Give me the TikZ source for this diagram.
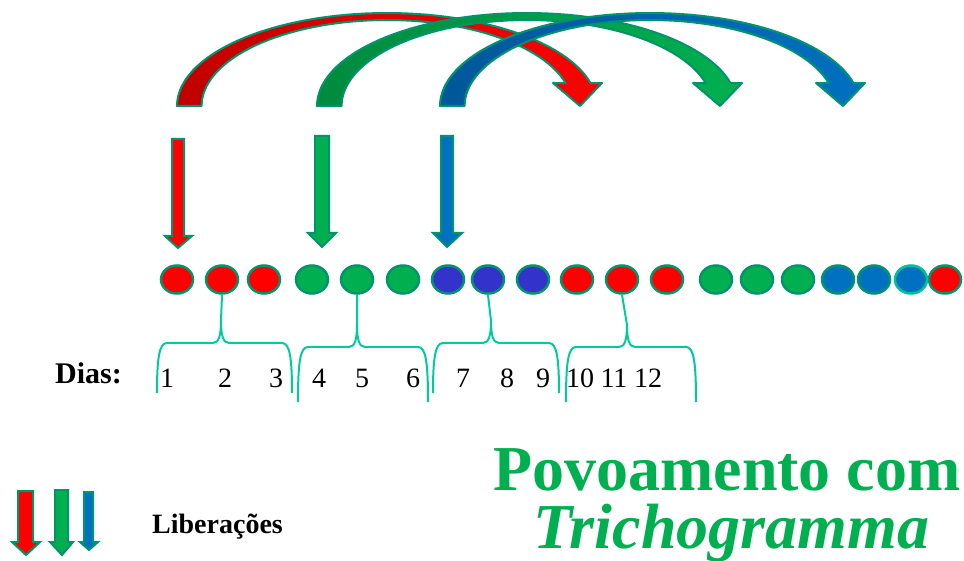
\documentclass[tikz,border=0pt]{standalone}
\usepackage{fontspec}
\setmainfont{LiberationSerif}[Extension=.ttf, UprightFont=*-Regular, BoldFont=*-Bold, ItalicFont=*-Italic, BoldItalicFont=*-BoldItalic]
\usetikzlibrary{shapes.geometric}
\definecolor{edge}{RGB}{0,148,108}
\definecolor{bracecol}{RGB}{0,204,153}
\definecolor{pred}{HTML}{FF0000}
\definecolor{pgreen}{HTML}{00B050}
\definecolor{ppurple}{HTML}{3333CC}
\definecolor{pblue}{HTML}{0070C0}
\definecolor{darkred}{HTML}{C00000}
\definecolor{darkgreen}{HTML}{008A3E}
\definecolor{darkblue}{HTML}{00579A}
\newcommand\bigarc[3]{%
  \path[shift={(#1,0)}, draw=edge, line width=2, left color=#2, right color=#3, line join=round]
    plot[domain=180:345.7, samples=60] ({387+210*cos(\x)},{106+93*sin(\x)})
    -- (602,83) -- (580,106) -- (553,83)
    -- plot[domain=344.5:180, samples=60] ({387+185.4*cos(\x)},{106+86*sin(\x)}) -- cycle;}
\newcommand\relarrow[9]{%
  \filldraw[draw=edge, line width=2, line join=miter, fill=#9]
    (#1,#3) -- (#2,#3) -- (#2,#4) -- (#6,#4) -- (#7,#8) -- (#5,#4) -- (#1,#4) -- cycle;}
\newcommand\daybrace[6]{%
  \draw[bracecol, line width=2] (#1,#4) .. controls (#1,#3+16) and (#1+2,#3) .. (#1+10,#3)
    -- (#5-8,#3) .. controls (#5-2,#3) and (#5,#3-8) .. (#5,#3-22) -- (#6);
  \draw[bracecol, line width=2] (#2,#4) .. controls (#2,#3+16) and (#2-2,#3) .. (#2-10,#3)
    -- (#5+8,#3) .. controls (#5+2,#3) and (#5,#3-8) .. (#5,#3-22);}
\begin{document}
\begin{tikzpicture}[x=1pt,y=-1pt,
  dot/.style={ellipse, draw=edge, line width=2.5, minimum width=32, minimum height=28, inner sep=0},
  numtxt/.style={anchor=base, inner sep=0, font=\fontsize{28}{28}\selectfont},
  ]
\useasboundingbox[fill=white] (0,0) rectangle (964,561);

% big curved arrows
\bigarc{0}{darkred}{pred}
\bigarc{140}{darkgreen}{pgreen}
\bigarc{263}{darkblue}{pblue}

% release arrows
\relarrow{172}{184}{139}{236}{165}{192}{178}{248}{pred}
\relarrow{315}{329}{136}{233}{308}{336}{322}{247}{pgreen}
\relarrow{441}{453}{136}{233}{433}{462}{447}{247}{pblue}

% eggs
\foreach \n/\cx/\col in {1/177/pred,2/222/pred,3/264/pred,4/312/pgreen,5/357/pgreen,6/403/pgreen,
  7/448/ppurple,8/488/ppurple,9/533/ppurple,10/577/pred,11/622/pred,12/667/pred,
  13/716/pgreen,14/757/pgreen,15/798/pgreen,16/838/pblue,17/874/pblue,19/945/pred}
  \node[dot, fill=\col] (c\n) at (\cx,279.5) {};
\node[dot, fill=pblue, draw=bracecol!80!edge] (c18) at (911,279.5) {};

% braces
\daybrace{157}{292}{343}{393}{221}{c2.south}
\daybrace{298}{428}{347}{402}{357}{c5.south}
\daybrace{433}{559}{343}{393}{491}{c8.south}
\daybrace{566}{696}{347}{402}{627}{c11.south}

% day numbers
\node[anchor=base west, inner sep=0, font=\fontsize{30}{30}\selectfont\bfseries] (dias) at (55,383) {Dias:};
\foreach \d/\px in {1/167,2/225,3/276,4/319,5/362,6/413,7/463,8/507,9/543,10/580,11/614,12/648}
  \node[numtxt] (d\d) at (\px,388) {\d};

% legend
\relarrow{18}{33}{491}{542}{12}{40}{26}{555}{pred}
\relarrow{55}{68}{490}{542}{50}{73}{62}{555}{pgreen}
\relarrow{84}{93}{492}{542}{80}{98}{89}{550}{pblue}
\node[anchor=base west, inner sep=0, font=\fontsize{28}{28}\selectfont\bfseries] (lib) at (152,533) {Liberações};

% title
\node[anchor=base west, inner sep=0, text=pgreen, font=\fontsize{64}{64}\selectfont\bfseries] (t1) at (493,490) {Povoamento com};
\node[anchor=base west, inner sep=0, text=pgreen, font=\fontsize{64}{64}\selectfont\bfseries\itshape] (t2) at (533,548) {Trichogramma};
\end{tikzpicture}
\end{document}
